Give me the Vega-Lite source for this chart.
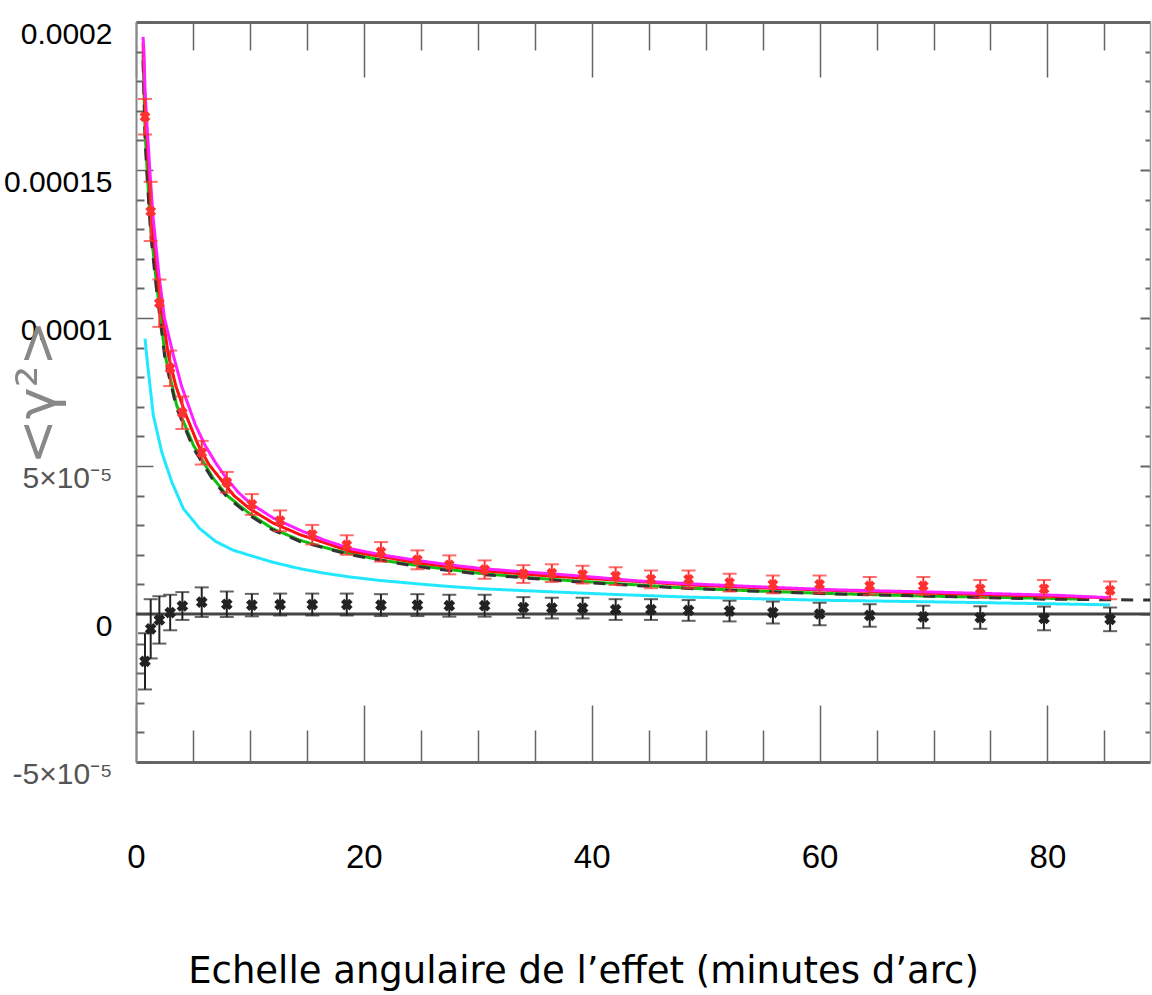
{
  "$schema": "https://vega.github.io/schema/vega-lite/v6.json",
  "autosize": {"type": "none"},
  "padding": {"left": 136, "top": 22, "right": 2, "bottom": 233},
  "width": 1014,
  "height": 740,
  "background": "white",
  "config": {"view": {"stroke": null}, "axis": {"grid": false}},
  "datasets": {
    "curves": [
      {"s": "c", "x": 0.79, "y": 9.3e-5}, {"s": "c", "x": 1.0, "y": 8.5e-5}, {"s": "c", "x": 1.52, "y": 6.71e-5}, {"s": "c", "x": 2.26, "y": 5.47e-5}, {"s": "c", "x": 3.14, "y": 4.46e-5}, {"s": "c", "x": 4.16, "y": 3.56e-5}, {"s": "c", "x": 5.6, "y": 2.88e-5}, {"s": "c", "x": 7, "y": 2.45e-5}, {"s": "c", "x": 8.5, "y": 2.16e-5}, {"s": "c", "x": 10, "y": 1.98e-5}, {"s": "c", "x": 12, "y": 1.75e-5}, {"s": "c", "x": 14.4, "y": 1.53e-5}, {"s": "c", "x": 16.5, "y": 1.38e-5}, {"s": "c", "x": 18.8, "y": 1.25e-5}, {"s": "c", "x": 21.5, "y": 1.13e-5}, {"s": "c", "x": 24.7, "y": 1.02e-5}, {"s": "c", "x": 27.5, "y": 0.93e-5}, {"s": "c", "x": 30.5, "y": 0.85e-5}, {"s": "c", "x": 36.4, "y": 0.75e-5}, {"s": "c", "x": 42, "y": 0.66e-5}, {"s": "c", "x": 48.6, "y": 0.57e-5}, {"s": "c", "x": 55, "y": 0.51e-5}, {"s": "c", "x": 61, "y": 0.46e-5}, {"s": "c", "x": 70, "y": 0.41e-5}, {"s": "c", "x": 78, "y": 0.36e-5}, {"s": "c", "x": 85.5, "y": 0.31e-5},
      {"s": "g", "x": 0.62, "y": 18.9e-5}, {"s": "g", "x": 0.8, "y": 16.3e-5}, {"s": "g", "x": 1.0, "y": 14.8e-5}, {"s": "g", "x": 1.3, "y": 13.0e-5}, {"s": "g", "x": 1.76, "y": 11.3e-5}, {"s": "g", "x": 2.55, "y": 8.74e-5}, {"s": "g", "x": 3.57, "y": 7.05e-5}, {"s": "g", "x": 5.04, "y": 5.7e-5}, {"s": "g", "x": 6.8, "y": 4.57e-5}, {"s": "g", "x": 8, "y": 4.0e-5}, {"s": "g", "x": 10, "y": 3.38e-5}, {"s": "g", "x": 12, "y": 2.88e-5}, {"s": "g", "x": 14.4, "y": 2.49e-5}, {"s": "g", "x": 16.5, "y": 2.25e-5}, {"s": "g", "x": 18.8, "y": 2.04e-5}, {"s": "g", "x": 21.5, "y": 1.82e-5}, {"s": "g", "x": 24.7, "y": 1.64e-5}, {"s": "g", "x": 27.5, "y": 1.5e-5}, {"s": "g", "x": 30.5, "y": 1.36e-5}, {"s": "g", "x": 36.4, "y": 1.17e-5}, {"s": "g", "x": 42, "y": 1.03e-5}, {"s": "g", "x": 48.6, "y": 0.87e-5}, {"s": "g", "x": 55, "y": 0.77e-5}, {"s": "g", "x": 61, "y": 0.69e-5}, {"s": "g", "x": 70, "y": 0.6e-5}, {"s": "g", "x": 80, "y": 0.53e-5}, {"s": "g", "x": 83, "y": 0.5e-5},
      {"s": "k", "x": 0.62, "y": 18.7e-5}, {"s": "k", "x": 0.8, "y": 16.0e-5}, {"s": "k", "x": 1.0, "y": 14.6e-5}, {"s": "k", "x": 1.3, "y": 12.8e-5}, {"s": "k", "x": 1.76, "y": 11.1e-5}, {"s": "k", "x": 2.55, "y": 8.6e-5}, {"s": "k", "x": 3.57, "y": 6.95e-5}, {"s": "k", "x": 5.04, "y": 5.6e-5}, {"s": "k", "x": 6.8, "y": 4.5e-5}, {"s": "k", "x": 8, "y": 3.95e-5}, {"s": "k", "x": 10, "y": 3.32e-5}, {"s": "k", "x": 12, "y": 2.84e-5}, {"s": "k", "x": 14.4, "y": 2.45e-5}, {"s": "k", "x": 18.8, "y": 2.0e-5}, {"s": "k", "x": 24.7, "y": 1.6e-5}, {"s": "k", "x": 30.5, "y": 1.33e-5}, {"s": "k", "x": 36.4, "y": 1.15e-5}, {"s": "k", "x": 42, "y": 1.0e-5}, {"s": "k", "x": 48.6, "y": 0.86e-5}, {"s": "k", "x": 55, "y": 0.76e-5}, {"s": "k", "x": 61, "y": 0.68e-5}, {"s": "k", "x": 70, "y": 0.6e-5}, {"s": "k", "x": 80, "y": 0.5e-5}, {"s": "k", "x": 89, "y": 0.47e-5},
      {"s": "r", "x": 0.62, "y": 19.3e-5}, {"s": "r", "x": 0.79, "y": 17.3e-5}, {"s": "r", "x": 1.0, "y": 15.8e-5}, {"s": "r", "x": 1.23, "y": 14.2e-5}, {"s": "r", "x": 1.5, "y": 12.9e-5}, {"s": "r", "x": 2.0, "y": 11.0e-5}, {"s": "r", "x": 2.84, "y": 8.74e-5}, {"s": "r", "x": 3.5, "y": 7.7e-5}, {"s": "r", "x": 4.3, "y": 6.8e-5}, {"s": "r", "x": 5.47, "y": 5.7e-5}, {"s": "r", "x": 6.4, "y": 5.05e-5}, {"s": "r", "x": 7.4, "y": 4.57e-5}, {"s": "r", "x": 8.6, "y": 4.0e-5}, {"s": "r", "x": 10, "y": 3.55e-5}, {"s": "r", "x": 12, "y": 3.08e-5}, {"s": "r", "x": 14.4, "y": 2.68e-5}, {"s": "r", "x": 18.8, "y": 2.12e-5}, {"s": "r", "x": 24.7, "y": 1.73e-5}, {"s": "r", "x": 30.5, "y": 1.46e-5}, {"s": "r", "x": 36.4, "y": 1.28e-5}, {"s": "r", "x": 42, "y": 1.15e-5}, {"s": "r", "x": 48.6, "y": 0.98e-5}, {"s": "r", "x": 55, "y": 0.88e-5}, {"s": "r", "x": 61, "y": 0.8e-5}, {"s": "r", "x": 70, "y": 0.7e-5}, {"s": "r", "x": 80, "y": 0.6e-5}, {"s": "r", "x": 85.5, "y": 0.55e-5},
      {"s": "m", "x": 0.62, "y": 19.5e-5}, {"s": "m", "x": 0.7, "y": 19.0e-5}, {"s": "m", "x": 0.79, "y": 17.7e-5}, {"s": "m", "x": 1.0, "y": 16.3e-5}, {"s": "m", "x": 1.23, "y": 14.9e-5}, {"s": "m", "x": 1.5, "y": 13.4e-5}, {"s": "m", "x": 2.0, "y": 11.5e-5}, {"s": "m", "x": 2.5, "y": 10.0e-5}, {"s": "m", "x": 3.28, "y": 8.74e-5}, {"s": "m", "x": 4.0, "y": 7.7e-5}, {"s": "m", "x": 4.6, "y": 7.05e-5}, {"s": "m", "x": 5.2, "y": 6.4e-5}, {"s": "m", "x": 6.06, "y": 5.7e-5}, {"s": "m", "x": 7.0, "y": 5.1e-5}, {"s": "m", "x": 7.97, "y": 4.57e-5}, {"s": "m", "x": 9, "y": 4.1e-5}, {"s": "m", "x": 10, "y": 3.75e-5}, {"s": "m", "x": 12, "y": 3.25e-5}, {"s": "m", "x": 14.4, "y": 2.83e-5}, {"s": "m", "x": 16.5, "y": 2.5e-5}, {"s": "m", "x": 18.8, "y": 2.21e-5}, {"s": "m", "x": 21.5, "y": 2.0e-5}, {"s": "m", "x": 24.7, "y": 1.81e-5}, {"s": "m", "x": 27.5, "y": 1.66e-5}, {"s": "m", "x": 30.5, "y": 1.53e-5}, {"s": "m", "x": 33.5, "y": 1.44e-5}, {"s": "m", "x": 36.4, "y": 1.36e-5}, {"s": "m", "x": 40, "y": 1.25e-5}, {"s": "m", "x": 44, "y": 1.12e-5}, {"s": "m", "x": 48.6, "y": 1.02e-5}, {"s": "m", "x": 54, "y": 0.93e-5}, {"s": "m", "x": 61, "y": 0.82e-5}, {"s": "m", "x": 70, "y": 0.74e-5}, {"s": "m", "x": 81, "y": 0.63e-5}, {"s": "m", "x": 85.5, "y": 0.55e-5}
    ],
    "black": [
      {"x": 0.79, "y": -1.6e-5, "e": 0.95e-5}, {"x": 1.29, "y": -0.5e-5, "e": 1.0e-5}, {"x": 2.05, "y": -0.2e-5, "e": 0.8e-5}, {"x": 3.0, "y": 0.05e-5, "e": 0.6e-5}, {"x": 4.07, "y": 0.27e-5, "e": 0.47e-5}, {"x": 5.77, "y": 0.4e-5, "e": 0.5e-5}, {"x": 7.97, "y": 0.33e-5, "e": 0.43e-5}, {"x": 10.17, "y": 0.3e-5, "e": 0.38e-5}, {"x": 12.65, "y": 0.32e-5, "e": 0.37e-5}, {"x": 15.47, "y": 0.32e-5, "e": 0.37e-5}, {"x": 18.5, "y": 0.32e-5, "e": 0.37e-5}, {"x": 21.5, "y": 0.3e-5, "e": 0.37e-5}, {"x": 24.7, "y": 0.3e-5, "e": 0.37e-5}, {"x": 27.5, "y": 0.28e-5, "e": 0.37e-5}, {"x": 30.6, "y": 0.28e-5, "e": 0.37e-5}, {"x": 34.0, "y": 0.22e-5, "e": 0.35e-5}, {"x": 36.5, "y": 0.2e-5, "e": 0.35e-5}, {"x": 39.2, "y": 0.2e-5, "e": 0.35e-5}, {"x": 42.1, "y": 0.15e-5, "e": 0.35e-5}, {"x": 45.2, "y": 0.15e-5, "e": 0.35e-5}, {"x": 48.5, "y": 0.12e-5, "e": 0.35e-5}, {"x": 52.1, "y": 0.1e-5, "e": 0.35e-5}, {"x": 55.9, "y": 0.05e-5, "e": 0.37e-5}, {"x": 60.0, "y": 0.0, "e": 0.38e-5}, {"x": 64.4, "y": -0.05e-5, "e": 0.38e-5}, {"x": 69.1, "y": -0.1e-5, "e": 0.38e-5}, {"x": 74.1, "y": -0.12e-5, "e": 0.38e-5}, {"x": 79.7, "y": -0.15e-5, "e": 0.4e-5}, {"x": 85.5, "y": -0.18e-5, "e": 0.4e-5}
    ],
    "red": [
      {"x": 0.79, "y": 16.8e-5, "e": 0.6e-5}, {"x": 1.29, "y": 13.6e-5, "e": 1.0e-5}, {"x": 2.05, "y": 10.5e-5, "e": 0.8e-5}, {"x": 3.0, "y": 8.3e-5, "e": 0.6e-5}, {"x": 4.07, "y": 6.8e-5, "e": 0.55e-5}, {"x": 5.77, "y": 5.45e-5, "e": 0.4e-5}, {"x": 7.97, "y": 4.45e-5, "e": 0.35e-5}, {"x": 10.17, "y": 3.7e-5, "e": 0.35e-5}, {"x": 12.65, "y": 3.15e-5, "e": 0.35e-5}, {"x": 15.47, "y": 2.68e-5, "e": 0.33e-5}, {"x": 18.5, "y": 2.33e-5, "e": 0.33e-5}, {"x": 21.5, "y": 2.1e-5, "e": 0.33e-5}, {"x": 24.7, "y": 1.83e-5, "e": 0.32e-5}, {"x": 27.5, "y": 1.66e-5, "e": 0.32e-5}, {"x": 30.6, "y": 1.5e-5, "e": 0.31e-5}, {"x": 34.0, "y": 1.35e-5, "e": 0.3e-5}, {"x": 36.5, "y": 1.38e-5, "e": 0.3e-5}, {"x": 39.2, "y": 1.33e-5, "e": 0.3e-5}, {"x": 42.1, "y": 1.28e-5, "e": 0.3e-5}, {"x": 45.2, "y": 1.17e-5, "e": 0.3e-5}, {"x": 48.5, "y": 1.17e-5, "e": 0.3e-5}, {"x": 52.1, "y": 1.06e-5, "e": 0.3e-5}, {"x": 55.9, "y": 1.0e-5, "e": 0.3e-5}, {"x": 60.0, "y": 1.0e-5, "e": 0.3e-5}, {"x": 64.4, "y": 0.95e-5, "e": 0.3e-5}, {"x": 69.1, "y": 0.95e-5, "e": 0.3e-5}, {"x": 74.1, "y": 0.85e-5, "e": 0.3e-5}, {"x": 79.7, "y": 0.85e-5, "e": 0.3e-5}, {"x": 85.5, "y": 0.8e-5, "e": 0.3e-5}
    ],
    "zero": [{"x": 0, "x2": 89, "y": 0}]
  },
  "resolve": {"axis": {"x": "independent", "y": "independent"}},
  "layer": [
    {
      "data": {"name": "curves"},
      "mark": {"type": "line", "strokeWidth": 3, "clip": true},
      "encoding": {
        "x": {"field": "x", "type": "quantitative", "scale": {"domain": [0, 89], "nice": false, "zero": false},
          "axis": {"orient": "bottom", "values": [0, 20, 40, 60, 80], "tickSize": -57, "tickColor": "#666", "tickWidth": 1.5,
            "domain": true, "domainColor": "#666", "domainWidth": 3,
            "labelFont": "Liberation Sans", "labelFontSize": 33, "labelColor": "black",
            "labelPadding": 152, "labelBaseline": "middle", "labelAlign": "center", "labelFlush": false, "labelOverlap": false,
            "title": "Echelle angulaire de l’effet (minutes d’arc)", "titleFont": "DejaVu Sans", "titleFontSize": 37, "titleFontWeight": "normal",
            "titleColor": "black", "titleX": 447, "titleY": 220, "titleAlign": "center", "titleBaseline": "alphabetic"}},
        "y": {"field": "y", "type": "quantitative", "scale": {"domain": [-5e-5, 2e-4], "nice": false, "zero": false},
          "axis": {"orient": "left", "values": [-5e-5, 0, 5e-5, 1e-4, 1.5e-4, 2e-4], "tickSize": -17, "tickColor": "#666", "tickWidth": 1.5,
            "domain": true, "domainColor": "#888", "domainWidth": 2,
            "labelExpr": "datum.value > 1.9e-4 ? '0.0002' : datum.value > 1.4e-4 ? '0.00015' : datum.value > 0.9e-4 ? '0.0001' : datum.value > 4e-5 ? '5×10⁻⁵' : datum.value > -1e-6 ? '0' : '-5×10⁻⁵'",
            "labelFont": "Liberation Sans", "labelFontSize": 30,
            "labelColor": {"condition": {"test": "abs(datum.value) > 4e-5 && abs(datum.value) < 6e-5", "value": "#555"}, "value": "black"},
            "labelPadding": 41, "labelOffset": 12, "labelAlign": "right", "labelBaseline": "middle", "labelFlush": false, "labelOverlap": false,
            "title": "<γ²>", "titleFont": "DejaVu Sans", "titleFontSize": 54, "titleFontWeight": "normal", "titleColor": "#888",
            "titleX": -98, "titleY": 370, "titleAngle": -90, "titleAlign": "center", "titleBaseline": "middle"}},
        "color": {"field": "s", "type": "nominal", "scale": {"domain": ["c", "g", "k", "r", "m"], "range": ["#22e8ff", "#10c010", "#333333", "#ff1010", "#ff20ff"]}, "legend": null},
        "strokeDash": {"field": "s", "type": "nominal", "scale": {"domain": ["c", "g", "k", "r", "m"], "range": [[1, 0], [1, 0], [12, 10], [1, 0], [1, 0]]}, "legend": null}
      }
    },
    {
      "data": {"name": "zero"},
      "mark": {"type": "rule", "color": "#444", "strokeWidth": 3},
      "encoding": {
        "x": {"field": "x", "type": "quantitative", "scale": {"domain": [0, 89], "nice": false, "zero": false},
          "axis": {"orient": "top", "values": [5, 10, 15, 25, 30, 35, 45, 50, 55, 65, 70, 75, 85], "tickSize": -28, "tickColor": "#666", "tickWidth": 1.5, "labels": false, "domain": false, "title": null}},
        "x2": {"field": "x2"},
        "y": {"field": "y", "type": "quantitative", "scale": {"domain": [-5e-5, 2e-4], "nice": false, "zero": false},
          "axis": {"orient": "right", "values": [-4e-5, -3e-5, -2e-5, -1e-5, 1e-5, 2e-5, 3e-5, 4e-5, 6e-5, 7e-5, 8e-5, 9e-5, 1.1e-4, 1.2e-4, 1.3e-4, 1.4e-4, 1.6e-4, 1.7e-4, 1.8e-4, 1.9e-4], "tickSize": -5, "tickColor": "#666", "tickWidth": 2, "labels": false, "domain": false, "title": null}}
      }
    },
    {
      "data": {"name": "black"},
      "mark": {"type": "errorbar", "ticks": {"size": 14, "thickness": 2}, "thickness": 2, "color": "#222"},
      "encoding": {
        "x": {"field": "x", "type": "quantitative", "scale": {"domain": [0, 89], "nice": false, "zero": false}, "axis": null},
        "y": {"field": "y", "type": "quantitative", "scale": {"domain": [-5e-5, 2e-4], "nice": false, "zero": false}, "axis": null},
        "yError": {"field": "e"}
      }
    },
    {
      "data": {"name": "black"},
      "mark": {"type": "point", "shape": "cross", "angle": 45, "filled": true, "size": 140, "color": "#222", "opacity": 1},
      "encoding": {
        "x": {"field": "x", "type": "quantitative", "scale": {"domain": [0, 89], "nice": false, "zero": false},
          "axis": {"orient": "bottom", "values": [5, 10, 15, 25, 30, 35, 45, 50, 55, 65, 70, 75, 85], "tickSize": -32, "tickColor": "#666", "tickWidth": 1.5, "labels": false, "domain": false, "title": null}},
        "y": {"field": "y", "type": "quantitative", "scale": {"domain": [-5e-5, 2e-4], "nice": false, "zero": false},
          "axis": {"orient": "left", "values": [-4e-5, -3e-5, -2e-5, -1e-5, 1e-5, 2e-5, 3e-5, 4e-5, 6e-5, 7e-5, 8e-5, 9e-5, 1.1e-4, 1.2e-4, 1.3e-4, 1.4e-4, 1.6e-4, 1.7e-4, 1.8e-4, 1.9e-4], "tickSize": -8, "tickColor": "#666", "tickWidth": 2, "labels": false, "domain": false, "title": null}}
      }
    },
    {
      "data": {"name": "red"},
      "mark": {"type": "errorbar", "ticks": {"size": 14, "thickness": 2}, "thickness": 2, "color": "#ff3030"},
      "encoding": {
        "x": {"field": "x", "type": "quantitative", "scale": {"domain": [0, 89], "nice": false, "zero": false}, "axis": null},
        "y": {"field": "y", "type": "quantitative", "scale": {"domain": [-5e-5, 2e-4], "nice": false, "zero": false}, "axis": null},
        "yError": {"field": "e"}
      }
    },
    {
      "data": {"name": "red"},
      "mark": {"type": "point", "shape": "cross", "angle": 45, "filled": true, "size": 120, "color": "#ff3030", "opacity": 1},
      "encoding": {
        "x": {"field": "x", "type": "quantitative", "scale": {"domain": [0, 89], "nice": false, "zero": false},
          "axis": {"orient": "top", "values": [0, 20, 40, 60, 80], "tickSize": -55, "tickColor": "#666", "tickWidth": 1.5, "labels": false, "domain": true, "domainColor": "#666", "domainWidth": 3, "title": null}},
        "y": {"field": "y", "type": "quantitative", "scale": {"domain": [-5e-5, 2e-4], "nice": false, "zero": false},
          "axis": {"orient": "right", "values": [-5e-5, 0, 5e-5, 1e-4, 1.5e-4, 2e-4], "tickSize": -10, "tickColor": "#666", "tickWidth": 2, "labels": false, "domain": true, "domainColor": "#999", "domainWidth": 1.5, "title": null}}
      }
    }
  ]
}
